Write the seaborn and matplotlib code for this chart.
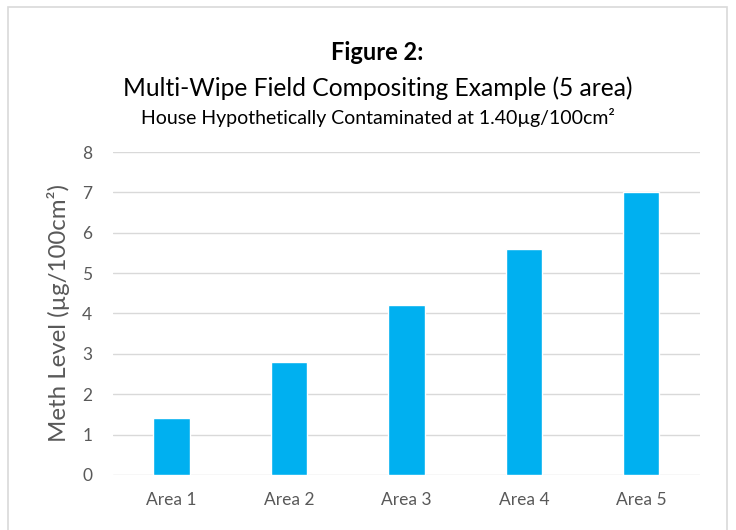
import matplotlib
matplotlib.use("Agg")
import matplotlib.pyplot as plt
from matplotlib.patches import Rectangle
from matplotlib.transforms import blended_transform_factory
import seaborn as sns
import pandas as pd

# Chart data
areas = ["Area 1", "Area 2", "Area 3", "Area 4", "Area 5"]
meth_levels = [1.4, 2.8, 4.2, 5.6, 7.0]
y_ticks = [0, 1, 2, 3, 4, 5, 6, 7, 8]

title_main = "Figure 2:"
title_sub = "Multi-Wipe Field Compositing Example (5 area)"
title_note = "House Hypothetically Contaminated at 1.40µg/100cm²"
y_label = "Meth Level (µg/100cm²)"

sns.set_theme(style="white")
plt.rcParams["font.family"] = ["Lato", "DejaVu Sans"]

df = pd.DataFrame({"area": areas, "level": meth_levels})

fig = plt.figure(figsize=(7.36, 5.30), dpi=100)
ax = fig.add_axes([0.1535, 0.1038, 0.7975, 0.6094])

sns.barplot(data=df, x="area", y="level", color="#00B0F0", saturation=1,
            width=0.31, ax=ax, zorder=3)

ax.set_ylim(0, 8)
ax.set_yticks(y_ticks)
ax.set_xlim(-0.5, len(areas) - 0.5)
ax.yaxis.grid(True, color="#D9D9D9", linewidth=1.0, zorder=0)
ax.set_axisbelow(True)
for side in ["top", "right", "left", "bottom"]:
    ax.spines[side].set_visible(False)
ax.tick_params(axis="x", length=0, labelsize=12.5, colors="#595959", pad=12)
ax.tick_params(axis="y", length=0, labelsize=12.5, colors="#595959", pad=15)
ax.set_xlabel("")
ax.set_ylabel(y_label, fontsize=17.3, color="#595959")
ax.yaxis.label.set_va("center")
ax.yaxis.set_label_coords(58 / 736, 0.5,
                          transform=blended_transform_factory(fig.transFigure, ax.transAxes))

# Titles
fig.text(0.513, 0.900, title_main, ha="center", va="center",
         fontsize=17, fontweight="bold", color="black")
fig.text(0.513, 0.833, title_sub, ha="center", va="center",
         fontsize=17.7, color="black")
fig.text(0.513, 0.779, title_note, ha="center", va="center",
         fontsize=14, color="black")

# Chart border
fig.patches.append(Rectangle((8 / 736, -0.01), (727 - 8) / 736, (530 - 7) / 530 + 0.01,
                             transform=fig.transFigure, fill=False,
                             edgecolor="#D9D9D9", linewidth=1.2))

fig.savefig("out.png", dpi=100)
